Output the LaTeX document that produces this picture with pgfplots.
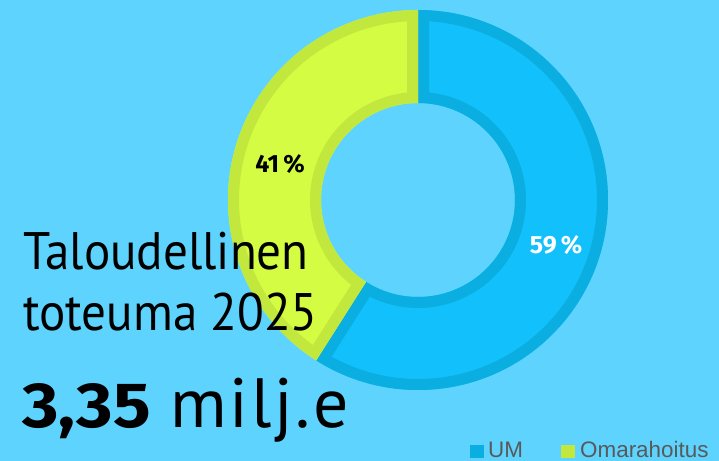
\documentclass[border=0pt]{standalone}
\usepackage{pgfplots}
\pgfplotsset{compat=1.18}
\usepackage{fontspec}
\setmainfont{PT Sans}
\newfontfamily\titlefont[FakeStretch=0.93]{PT Sans}
\newfontfamily\spaced[LetterSpace=4]{PT Sans}
\newfontfamily\firabig[FakeStretch=1.1]{Fira Sans}
\newfontfamily\fira{Fira Sans}
\newfontfamily\arial{Liberation Sans}
\definecolor{bg}{HTML}{5DD3FD}
\definecolor{umfill}{HTML}{12C0FB}
\definecolor{umedge}{HTML}{0AAEE0}
\definecolor{omfill}{HTML}{D4FC42}
\definecolor{omedge}{HTML}{C2E83D}
\definecolor{leg}{HTML}{595959}
% shares in percent
\def\UMval{59}
\def\OMval{41}
\begin{document}
\begin{tikzpicture}
\begin{axis}[
  scale only axis, width=719bp, height=461bp,
  xmin=0, xmax=719, ymin=0, ymax=461, y dir=reverse,
  hide axis, clip=false]
  \fill[bg] (axis cs:0,0) rectangle (axis cs:719,461);
  \coordinate (c) at (axis cs:418,200);
  \coordinate (t1) at (axis cs:23,270);
  \coordinate (t2) at (axis cs:23,331);
  \coordinate (t3) at (axis cs:22,428);
  \coordinate (t4) at (axis cs:170,428);
  \fill[umedge] (axis cs:470,445) rectangle (axis cs:484,458);
  \node[anchor=base west, inner sep=0, text=leg] at (axis cs:488,457.5) {\arial\fontsize{22.5}{26}\selectfont UM};
  \fill[omedge] (axis cs:561,445) rectangle (axis cs:575,458);
  \node[anchor=base west, inner sep=0, text=leg] at (axis cs:580,457.5) {\arial\fontsize{22.5}{26}\selectfont Omarahoitus};
  \coordinate (l41) at (axis cs:280,164);
  \coordinate (l59) at (axis cs:556,245);
\end{axis}
\pgfmathsetmacro{\aEnd}{90-3.6*\UMval}
\def\Ro{190bp}\def\Ri{97bp}
\def\umpath{([shift={(90:\Ro)}]c) arc[start angle=90, end angle=\aEnd, radius=\Ro] -- ([shift={(\aEnd:\Ri)}]c) arc[start angle=\aEnd, end angle=90, radius=\Ri] -- cycle}
\def\ompath{([shift={(\aEnd:\Ro)}]c) arc[start angle=\aEnd, end angle=-270, radius=\Ro] -- ([shift={(90:\Ri)}]c) arc[start angle=-270, end angle=\aEnd, radius=\Ri] -- cycle}
\begin{scope}
  \fill[umfill] \umpath;
  \clip \umpath;
  \draw[umedge, line width=22bp] \umpath;
\end{scope}
\begin{scope}
  \fill[omfill] \ompath;
  \clip \ompath;
  \draw[omedge, line width=22bp] \ompath;
\end{scope}
\node at (l41) {\fira\bfseries\fontsize{25}{28}\selectfont \OMval\,\%};
\node[text=white] at (l59) {\fira\bfseries\fontsize{25}{28}\selectfont \UMval\,\%};
\node[anchor=base west, inner sep=0] at (t1) {\titlefont\fontsize{53}{60}\selectfont Taloudellinen};
\node[anchor=base west, inner sep=0] at (t2) {\titlefont\fontsize{53}{60}\selectfont toteuma 2025};
\node[anchor=base west, inner sep=0] at (t3) {\firabig\fontsize{64}{70}\selectfont\textbf{3,35}};
\node[anchor=base west, inner sep=0] at (t4) {\spaced\fontsize{70}{76}\selectfont milj.e};
\end{tikzpicture}
\end{document}
